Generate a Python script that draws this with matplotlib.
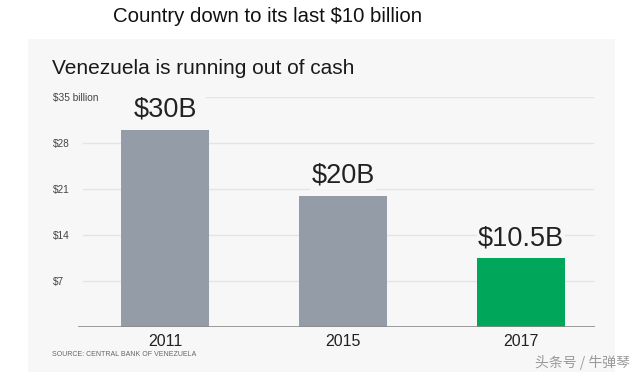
import matplotlib
matplotlib.use("Agg")
import matplotlib.pyplot as plt
from matplotlib.patches import Rectangle

years = ["2011", "2015", "2017"]
reserves = [30.0, 20.0, 10.5]
value_labels = ["$30B", "$20B", "$10.5B"]
bar_colors = ["#939ca7", "#939ca7", "#00a65a"]
tick_values = [7, 14, 21, 28, 35]
tick_labels = ["$7", "$14", "$21", "$28", "$35 billion"]

W, H = 640, 376
fig = plt.figure(figsize=(W / 100, H / 100), dpi=100)
fig.patch.set_facecolor("white")
plt.rcParams["font.family"] = ["Liberation Sans", "DejaVu Sans"]

# light panel behind the chart
panel = Rectangle((28 / W, 1 - 372 / H), (615 - 28) / W, (372 - 39) / H,
                  transform=fig.transFigure, facecolor="#f7f7f7",
                  edgecolor="none", zorder=-5)
fig.patches.append(panel)

fig.text(113 / W, 1 - 17 / H, "Country down to its last $10 billion",
         fontsize=14.7, color="#111111", va="center", ha="left")
fig.text(52 / W, 1 - 69 / H, "Venezuela is running out of cash",
         fontsize=15, color="#1a1a1a", va="center", ha="left")

ax = fig.add_axes([78 / W, 49 / H, 517 / W, 230 / H])
ax.set_zorder(3)
ax.set_facecolor("none")
x = list(range(len(years)))
ax.bar(x, reserves, width=0.494, color=bar_colors, zorder=2)
ax.set_xlim(-0.489, 2.416)
ax.set_ylim(0, 35)

for v in tick_values:
    start = 0.248 if v == 35 else 0.01
    ax.axhline(v, xmin=start, xmax=0.996, color="#e4e4e4", lw=1, zorder=1)
ax.axhline(0, color="#8a8a8a", lw=1.2, zorder=3)

ax.set_yticks(tick_values)
ax.set_yticklabels(tick_labels, fontsize=7.3, color="#444444")
for lab in ax.get_yticklabels():
    lab.set_horizontalalignment("left")
ax.tick_params(axis="y", length=0, pad=18)
ax.set_xticks(x)
ax.set_xticklabels(years, fontsize=11.5, color="#222222")
ax.tick_params(axis="x", length=0, pad=5)
for s in ax.spines.values():
    s.set_visible(False)

for xi, v, lab in zip(x, reserves, value_labels):
    ax.annotate(lab, (xi, v), xytext=(0, 5), textcoords="offset points",
                ha="center", va="bottom", fontsize=19.5, color="#222222",
                bbox=dict(boxstyle="square,pad=0.05", fc="#f7f7f7", ec="none"),
                zorder=4)

fig.text(52 / W, 1 - 355 / H, "SOURCE: CENTRAL BANK OF VENEZUELA",
         fontsize=5, color="#666666", va="center", ha="left")
fig.text(535 / W, 1 - 363 / H, "头条号 / 牛弹琴", fontsize=10,
         color="#9a9a9a", va="center", ha="left",
         family=["Noto Sans CJK SC", "DejaVu Sans"])

fig.savefig("out.png", dpi=100)
